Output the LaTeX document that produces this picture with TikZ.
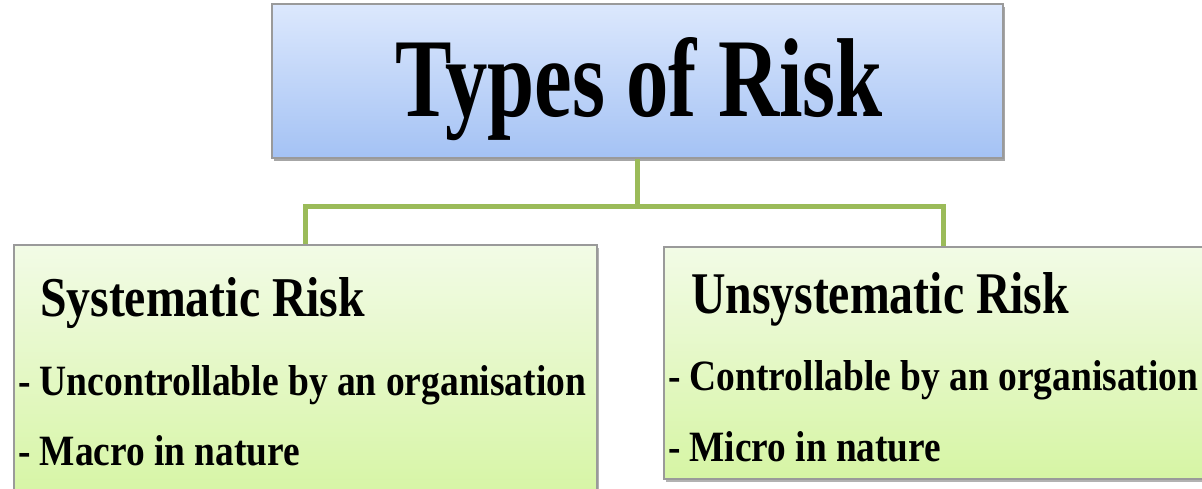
\documentclass[tikz,border=0pt]{standalone}
\usepackage{fontspec}
\setmainfont{Liberation Serif}
\usetikzlibrary{shadows}
\definecolor{bluetop}{HTML}{DCE8FD}
\definecolor{bluebot}{HTML}{A4C2F4}
\definecolor{greentop}{HTML}{F2FBE6}
\definecolor{greenbot}{HTML}{D6F5A4}
\definecolor{conn}{HTML}{9BBB59}
\definecolor{edgegray}{HTML}{9A9A9A}
\newcommand{\fitt}[3]{\resizebox{#1pt}{#2pt}{\bfseries #3}}
\tikzset{
  titlebox/.style={draw=edgegray, line width=1.2pt, shading=axis, top color=bluetop, bottom color=bluebot,
    inner sep=0pt, drop shadow={shadow xshift=2pt, shadow yshift=-3pt, opacity=0.35, fill=black}},
  riskbox/.style={draw=edgegray, line width=1.2pt, shading=axis, top color=greentop, bottom color=greenbot,
    inner sep=0pt, drop shadow={shadow xshift=2pt, shadow yshift=-3pt, opacity=0.3, fill=black}},
  txt/.style={anchor=base west, inner sep=0pt, outer sep=0pt},
  link/.style={draw=conn, line width=5pt}
}
\begin{document}
\begin{tikzpicture}[x=1pt,y=1pt]
\useasboundingbox (0,0) rectangle (1202,489);
\clip (0,0) rectangle (1202,489);
\fill[white] (0,0) rectangle (1202,489);
% boxes
\node[titlebox, minimum width=731pt, minimum height=154pt] (top) at (637.5,408) {};
\node[riskbox, minimum width=583pt, minimum height=255pt] (left) at (305.5,116.5) {};
\node[riskbox, minimum width=558pt, minimum height=232pt] (right) at (943,126) {};
% connectors
\coordinate (bar) at (637.5,282);
\draw[link] (top.south) -- (bar);
\draw[link, line join=miter] (bar) -| (left.north);
\draw[link, line join=miter] (bar) -| (right.north);
% texts
\node[txt] (ttl) at (395,372) {\fitt{488}{79}{Types of Risk}};
\node[txt] (lh) at (40,172) {\fitt{325}{39}{Systematic Risk}};
\node[txt] (l1) at (18,93) {\fitt{568}{30}{- Uncontrollable by an organisation}};
\node[txt] (l2) at (18,23) {\fitt{282}{30}{- Macro in nature}};
\node[txt] (rh) at (691,175) {\fitt{378}{41}{Unsystematic Risk}};
\node[txt] (r1) at (668,98) {\fitt{530}{30}{- Controllable by an organisation}};
\node[txt] (r2) at (668,27) {\fitt{273}{30}{- Micro in nature}};
\end{tikzpicture}
\end{document}
